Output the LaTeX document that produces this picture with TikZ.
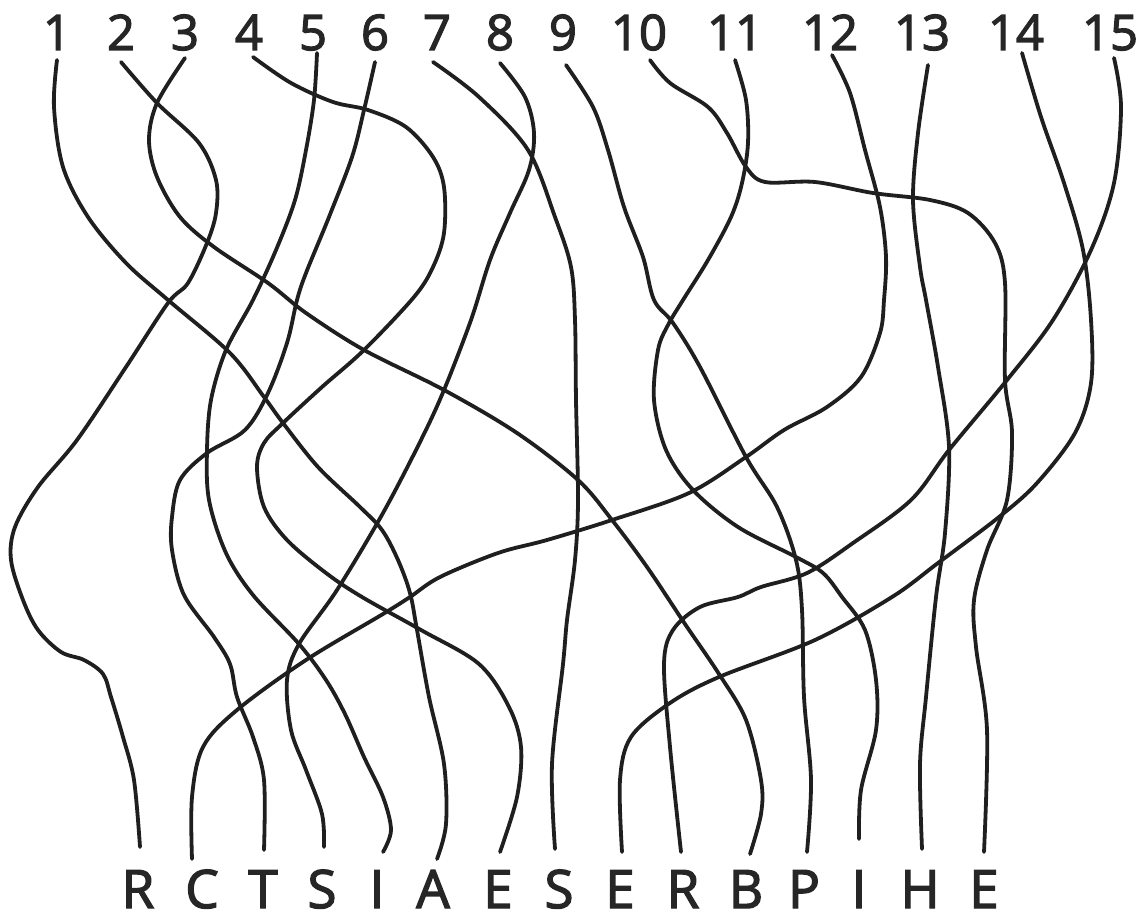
\documentclass[tikz,border=0pt]{standalone}
\usepackage{fontspec}
\setmainfont{Open Sans}
\newfontfamily\labfont{Open Sans}[FakeBold=2.5]
\begin{document}
\begin{tikzpicture}[x=1pt,y=-1pt,
  wire/.style={line width=3.8pt, draw=black!88, line cap=round, smooth, tension=0.55},
  num/.style={font=\labfont\fontsize{49}{49}\selectfont, anchor=base, text=black!85, inner sep=0pt},
  lab/.style={font=\labfont\fontsize{53}{53}\selectfont, anchor=base, text=black!85, inner sep=0pt}]
\useasboundingbox (0,0) rectangle (1147,917);
% top numbers
\foreach \i/\x in {1/57,2/121,3/185,4/249,5/313,6/375,7/437,8/500,9/563,10/639,11/735,12/830,13/922,14/1016,15/1110}
  \node[num] (n\i) at (\x,50) {\i};
% bottom letters
\foreach \i/\x/\t in {1/138/R,2/202/C,3/263/T,4/322/S,5/377/I,6/433/A,7/498/E,8/559/S,9/620/E,10/683/R,11/746/B,12/804/P,13/859/I,14/920/H,15/984/E}
  \node[lab] (b\i) at (\x,908) {\t};
% line ends
\coordinate (s1) at (57,60);   \coordinate (e1) at (437,859);
\coordinate (s2) at (121,62);  \coordinate (e2) at (140,847);
\coordinate (s3) at (185,58);  \coordinate (e3) at (750,854);
\coordinate (s4) at (253,57);  \coordinate (e4) at (500,852);
\coordinate (s5) at (317,53);  \coordinate (e5) at (383,852);
\coordinate (s6) at (375,62);  \coordinate (e6) at (264,850);
\coordinate (s7) at (433,62);  \coordinate (e7) at (555,849);
\coordinate (s8) at (500,63);  \coordinate (e8) at (324,847);
\coordinate (s9) at (566,65);  \coordinate (e9) at (807,852);
\coordinate (s10) at (650,60); \coordinate (e10) at (984,852);
\coordinate (s11) at (735,60); \coordinate (e11) at (859,839);
\coordinate (s12) at (832,55); \coordinate (e12) at (192,859);
\coordinate (s13) at (928,65); \coordinate (e13) at (922,849);
\coordinate (s14) at (1022,53);\coordinate (e14) at (622,852);
\coordinate (s15) at (1114,58);\coordinate (e15) at (681,852);
% 1 -> A
\draw[wire] plot coordinates {(s1) (54,107) (63,167) (88,217) (126,263) (168,300) (230,353) (264,397) (283,423) (318,467) (360,507) (382,530) (398,560) (410,593) (417,630) (429,697) (444,764) (446,824) (e1)};
% 2 -> R
\draw[wire] plot coordinates {(s2) (157,103) (199,143) (216,180) (216,213) (207,243) (188,283) (168,303) (126,367) (77,440) (38,487) (15,527) (11,560) (23,600) (38,630) (61,652) (84,660) (103,674) (111,697) (123,737) (134,780) (e2)};
% 3 -> B
\draw[wire] plot coordinates {(s3) (157,103) (149,140) (157,177) (180,217) (214,247) (268,283) (306,313) (364,350) (444,390) (517,433) (578,480) (612,520) (647,567) (685,624) (719,674) (746,720) (761,780) (761,814) (e3)};
% 4 -> E
\draw[wire] plot coordinates {(s4) (291,83) (333,102) (368,110) (406,127) (433,157) (444,187) (444,233) (433,267) (414,297) (364,350) (322,387) (283,423) (264,443) (257,467) (264,507) (287,540) (326,573) (362,597) (421,630) (479,664) (509,707) (521,747) (517,797) (e4)};
% 5 -> I
\draw[wire] plot coordinates {(s5) (314,100) (306,150) (295,200) (276,250) (253,300) (226,350) (211,400) (207,450) (209,500) (226,553) (253,595) (299,644) (326,680) (345,714) (364,757) (383,797) (391,830) (e5)};
% 6 -> T
\draw[wire] plot coordinates {(s6) (364,110) (352,157) (329,217) (306,273) (297,300) (287,343) (268,393) (245,430) (207,453) (180,480) (172,517) (172,550) (184,595) (214,637) (230,664) (237,697) (253,737) (264,780) (e6)};
% 7 -> S
\draw[wire] plot coordinates {(s7) (479,97) (528,150) (555,217) (571,267) (575,320) (576,400) (578,500) (575,560) (567,620) (563,664) (552,764) (e7)};
% 8 -> S
\draw[wire] plot coordinates {(s8) (525,97) (534,133) (529,170) (510,213) (490,260) (471,320) (444,390) (421,440) (383,513) (337,590) (299,644) (287,680) (291,730) (306,770) (322,814) (e8)};
% 9 -> P
\draw[wire] plot coordinates {(s9) (593,107) (608,150) (624,207) (643,257) (654,300) (673,323) (700,367) (746,457) (777,507) (796,560) (802,610) (804,697) (811,780) (e9)};
% 10 -> E
\draw[wire] plot coordinates {(s10) (670,83) (708,107) (727,133) (746,167) (765,182) (815,182) (873,193) (930,200) (968,213) (995,243) (1005,283) (1005,380) (1012,433) (1007,500) (987,550) (974,600) (976,647) (987,730) (e10)};
% 11 -> I
\draw[wire] plot coordinates {(s11) (746,100) (748,143) (742,183) (731,217) (708,260) (683,300) (668,325) (658,350) (654,400) (666,450) (693,490) (738,527) (796,557) (823,573) (842,597) (865,630) (876,680) (876,730) (861,790) (e11)};
% 12 -> C
\draw[wire] plot coordinates {(s12) (850,93) (865,150) (880,207) (886,257) (884,300) (880,333) (861,377) (827,407) (784,430) (746,457) (689,493) (612,520) (547,540) (498,553) (440,577) (410,597) (383,614) (306,660) (237,710) (203,747) (192,797) (e12)};
% 13 -> H
\draw[wire] plot coordinates {(s13) (918,133) (913,200) (920,267) (926,300) (938,367) (949,447) (945,533) (936,597) (926,697) (920,764) (e13)};
% 14 -> E
\draw[wire] plot coordinates {(s14) (1041,117) (1064,183) (1083,250) (1091,320) (1091,383) (1075,433) (1037,483) (999,517) (938,563) (892,597) (815,640) (719,677) (670,703) (631,737) (620,780) (e14)};
% 15 -> R
\draw[wire] plot coordinates {(s15) (1121,107) (1114,183) (1091,250) (1053,320) (1007,380) (949,450) (911,500) (853,543) (807,573) (761,587) (738,597) (700,607) (673,630) (664,664) (670,747) (e15)};
\end{tikzpicture}
\end{document}
